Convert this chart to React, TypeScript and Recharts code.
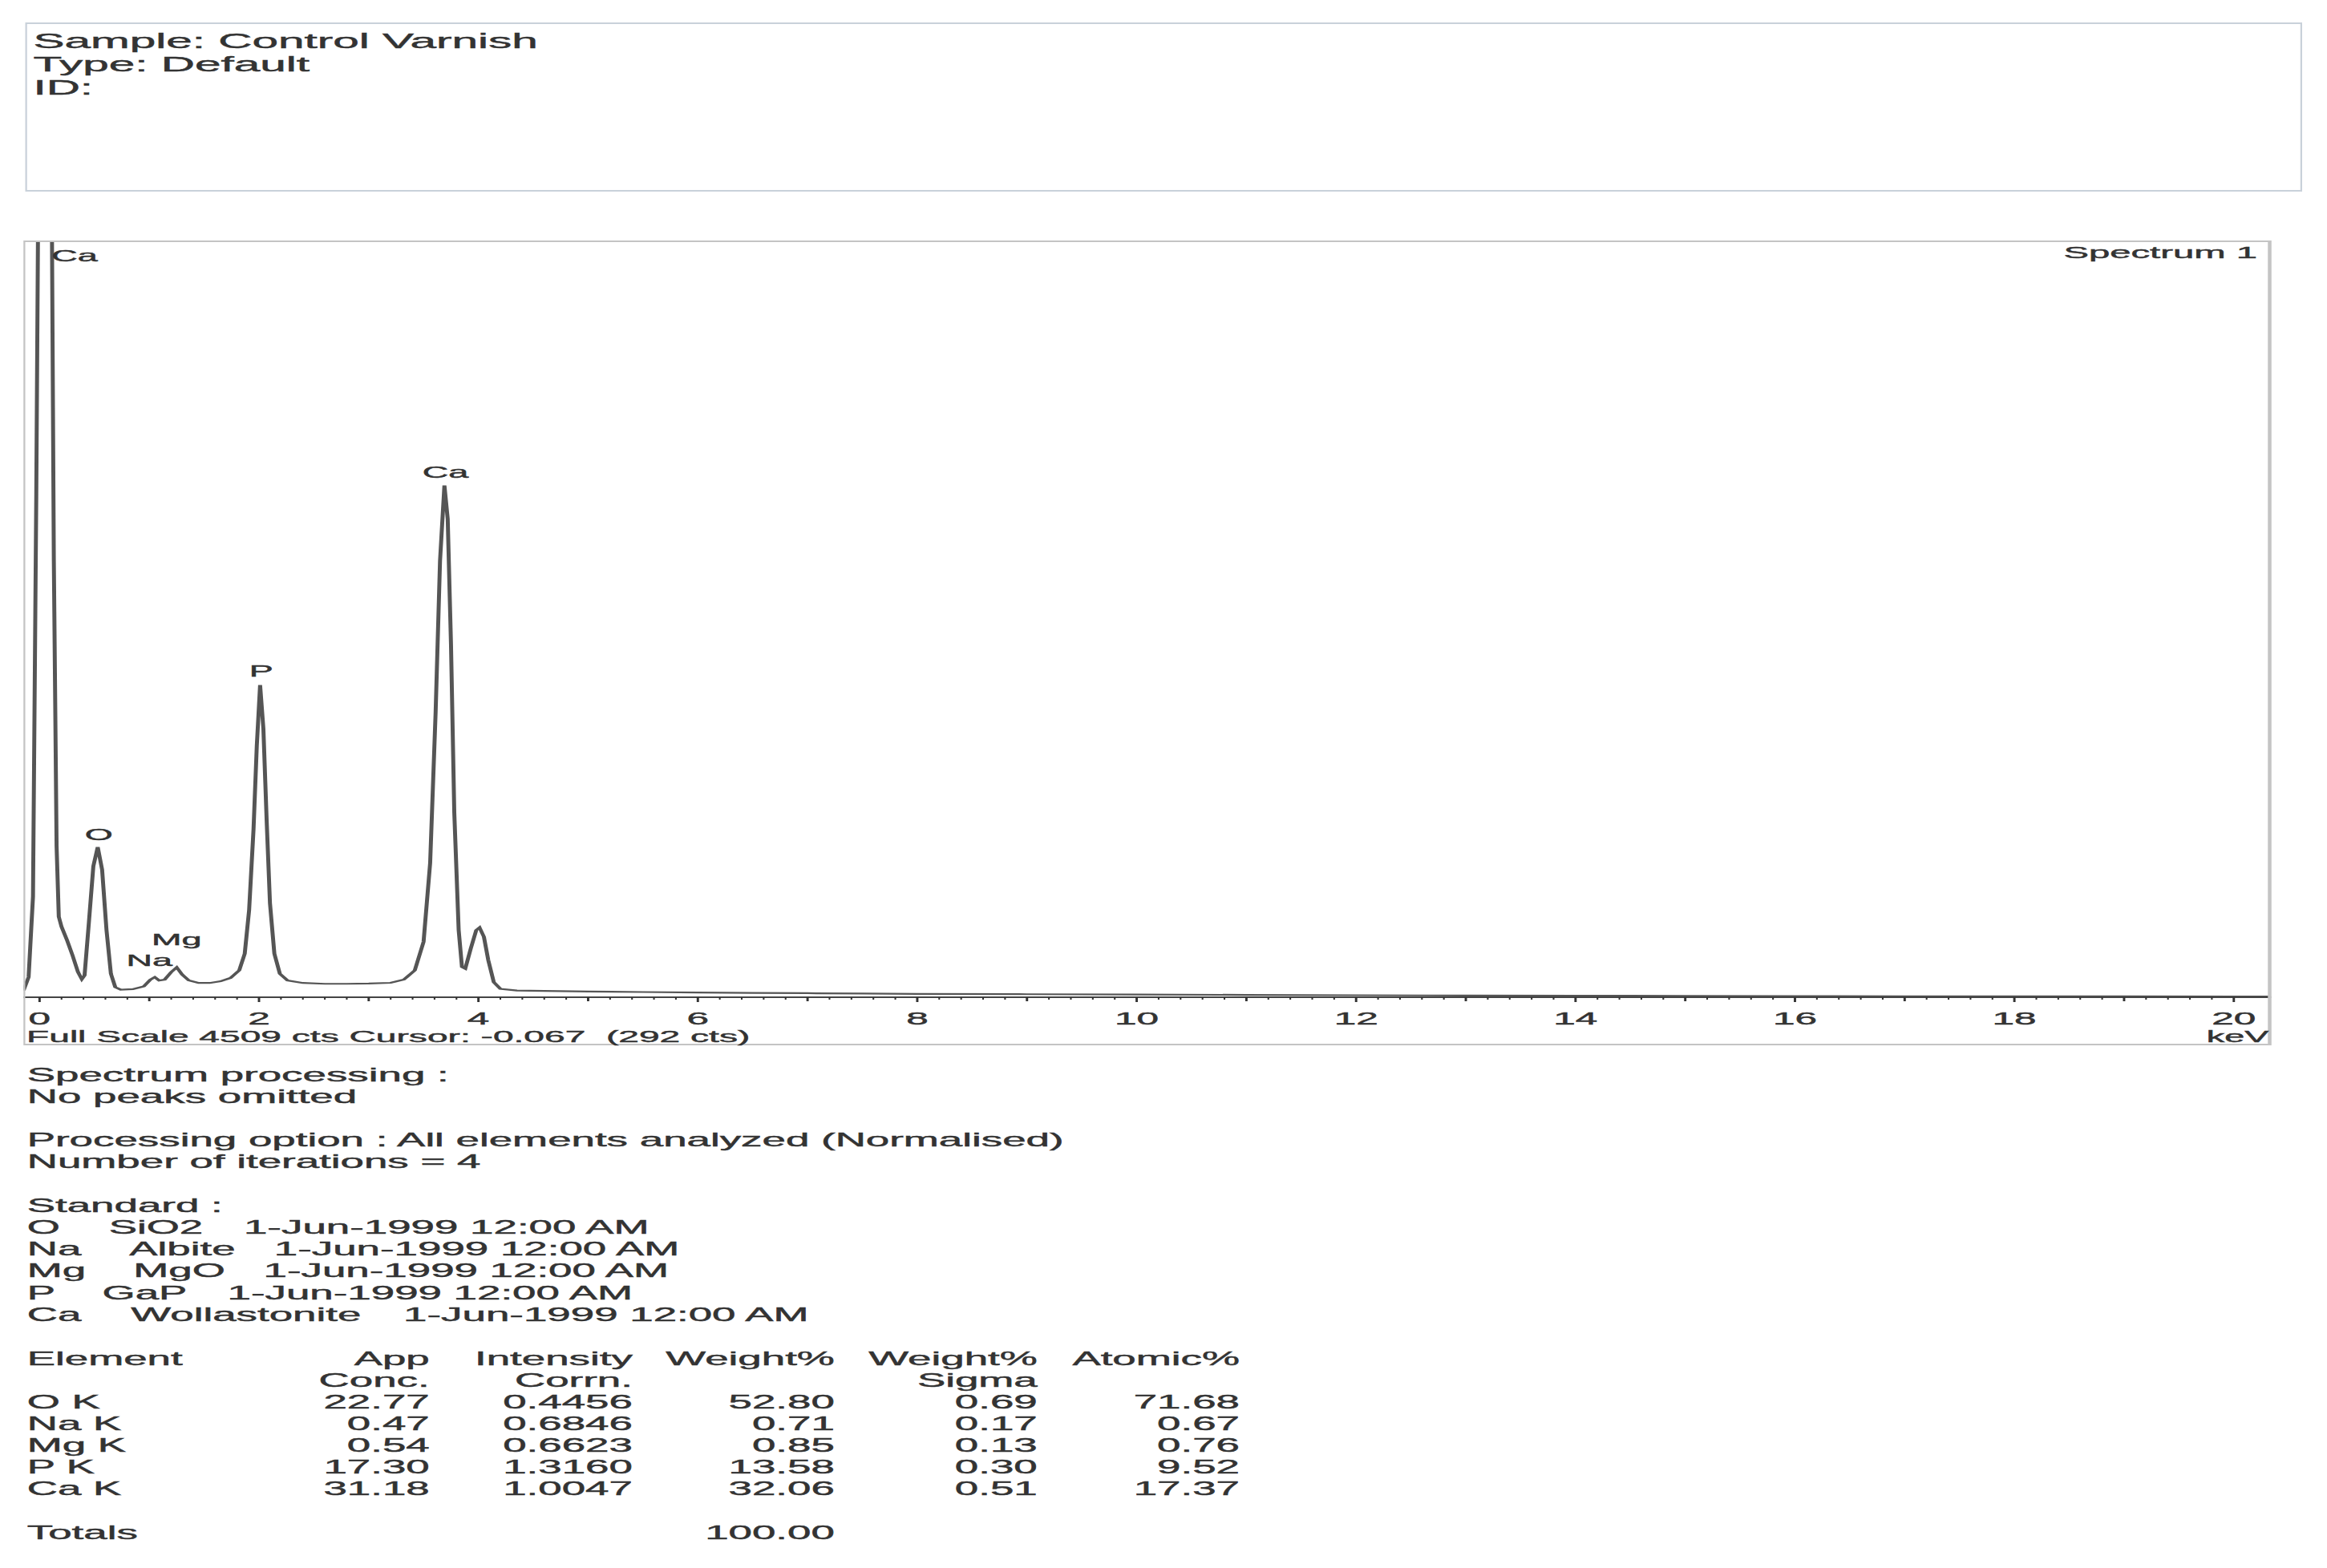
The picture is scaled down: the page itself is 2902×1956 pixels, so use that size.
import React from "react";
import { LineChart, Line, XAxis, YAxis, ReferenceDot } from "recharts";

// the reference is horizontally stretched, so the page is laid out narrow and scaled in x
const SX = 2.25;
const PAGE_W = 2902;
const PAGE_H = 1956;
const INNER_W = PAGE_W / SX;
const FONT = '"Liberation Sans", Arial, Helvetica, sans-serif';
const INK = "#333";

const FULL_SCALE = 4509;

// spectrum (keV, counts)
const energyKev = [
  -0.146, -0.1, -0.06, -0.03, 0.0, 0.05, 0.1, 0.13, 0.155, 0.175, 0.2, 0.25, 0.3, 0.35, 0.385,
  0.41, 0.45, 0.49, 0.53, 0.57, 0.61, 0.65, 0.69, 0.74, 0.85, 0.95, 1.01, 1.05, 1.09, 1.14,
  1.2, 1.25, 1.3, 1.36, 1.45, 1.55, 1.65, 1.74, 1.82, 1.87, 1.91, 1.95, 1.98, 2.01, 2.04,
  2.07, 2.1, 2.14, 2.19, 2.26, 2.4, 2.6, 2.8, 3.0, 3.2, 3.32, 3.42, 3.5, 3.56, 3.61, 3.65,
  3.69, 3.72, 3.75, 3.78, 3.82, 3.85, 3.88, 3.93, 3.98, 4.01, 4.05, 4.09, 4.14, 4.2, 4.35,
  4.6, 5.0, 5.5, 6.0, 6.5, 7.0, 7.5, 8.0, 9.0, 10.0, 11.0, 12.0, 13.0, 14.0, 15.0, 16.0,
  17.0, 18.0, 19.0, 20.0, 20.34,
];
const counts = [
  40, 120, 600, 3000, 6000, 8000, 6000, 2600, 900, 480, 420, 340, 250, 150, 108,
  130, 450, 780, 895, 760, 400, 140, 60, 45, 48, 65, 105, 120, 100, 105,
  150, 178, 135, 100, 85, 85, 95, 115, 160, 260, 520, 1000, 1500, 1860, 1600,
  1050, 560, 260, 140, 100, 85, 80, 80, 82, 86, 105, 160, 330, 800, 1700, 2600,
  3050, 2850, 2100, 1100, 400, 180, 170, 290, 400, 415, 360, 220, 90, 50, 40,
  38, 34, 31, 28, 26, 24, 22, 20, 18, 16, 14, 12, 10, 9, 8, 7,
  6, 5, 5, 4, 4,
];

const majorTicks = [0, 2, 4, 6, 8, 10, 12, 14, 16, 18, 20];
const minorStep = 0.2;

const peakNames = ["Ca", "Ca", "P", "O", "Mg", "Na"];
const peakLabelKev = [0.32, 3.7, 2.02, 0.54, 1.25, 1.0];
const peakLabelCounts = [4418, 3128, 1943, 970, 344, 220];

const sampleLines = ["Sample: Control Varnish", "Type: Default", "ID:"];

const processingLines: [string, number][] = [
  ["Spectrum processing :", 1349],
  ["No peaks omitted", 1376],
  ["Processing option : All elements analyzed (Normalised)", 1430.5],
  ["Number of iterations = 4", 1457.5],
  ["Standard :", 1512],
];

const stdElements = ["O", "Na", "Mg", "P", "Ca"];
const stdCompounds = ["SiO2", "Albite", "MgO", "GaP", "Wollastonite"];
const stdDate = "1-Jun-1999 12:00 AM";
const stdCompoundX = [60.3, 71.7, 73.9, 56.7, 72.6];
const stdDateX = [135.1, 151.9, 146, 126, 223.6];

const elementNames = ["O K", "Na K", "Mg K", "P K", "Ca K"];
const appConc = ["22.77", "0.47", "0.54", "17.30", "31.18"];
const intensityCorrn = ["0.4456", "0.6846", "0.6623", "1.3160", "1.0047"];
const weightPct = ["52.80", "0.71", "0.85", "13.58", "32.06"];
const weightSigma = ["0.69", "0.17", "0.13", "0.30", "0.51"];
const atomicPct = ["71.68", "0.67", "0.76", "9.52", "17.37"];
const totalWeight = "100.00";

const spectrum = energyKev.map((kev, i) => ({ kev, cts: counts[i] }));
const axisTicks = Array.from({ length: Math.round(20 / minorStep) + 1 }, (_, i) =>
  Math.round(i * minorStep * 10) / 10
);

const KevTick = (props: any) => {
  const { x, y, payload } = props;
  const v = payload.value as number;
  const isMajor = majorTicks.some((t) => Math.abs(t - v) < 1e-6);
  const isInt = Math.abs(v - Math.round(v)) < 1e-6;
  const len = isMajor ? 6 : isInt ? 5 : 3;
  return (
    <g>
      <line x1={x} x2={x} y1={y} y2={y + len} stroke="#333" strokeWidth={isInt ? 1.3 : 0.9} />
      {isMajor && (
        <text
          x={x}
          y={y + 34}
          textAnchor="middle"
          fontSize={22}
          fill={INK}
          stroke={INK}
          strokeWidth={0.45}
          fontFamily={FONT}
        >
          {Math.round(v)}
        </text>
      )}
    </g>
  );
};

const BOX_L = 13.3;
const BOX_T = 300;
const BOX_W = 1245.8;
const BOX_H = 1004;

const T = (p: { x: number; y: number; size?: number; anchor?: string; children: React.ReactNode }) => (
  <text
    x={p.x}
    y={p.y}
    fontSize={p.size ?? 23.5}
    textAnchor={(p.anchor as any) ?? "start"}
    fill={INK}
    stroke={INK}
    strokeWidth={0.45}
    fontFamily={FONT}
    style={{ whiteSpace: "pre" }}
  >
    {p.children}
  </text>
);

const tableCols = [238.1, 350.6, 462.6, 575, 687.1];
const rowBase = [1757, 1784, 1811, 1838, 1865];

export default function App() {
  return (
    <div style={{ position: "absolute", left: 0, top: 0, width: PAGE_W, height: PAGE_H, overflow: "hidden", background: "#fff" }}>
      <div style={{ position: "absolute", left: 0, top: 0, width: INNER_W, height: PAGE_H, transform: `scaleX(${SX})`, transformOrigin: "0 0" }}>
        <div
          style={{
            position: "absolute", left: 13.6, top: 28, width: 1262.4, height: 211, boxSizing: "border-box",
            borderStyle: "solid", borderColor: "#c9d1da", borderWidth: "2.5px 1.2px",
          }}
        />
        <div style={{ position: "absolute", left: BOX_L, top: BOX_T }}>
          <LineChart width={BOX_W} height={BOX_H} data={spectrum} margin={{ top: 0, right: 0, bottom: 0, left: 0 }}>
            <XAxis
              dataKey="kev"
              type="number"
              domain={[-0.147, 20.34]}
              allowDataOverflow
              ticks={axisTicks}
              interval={0}
              height={60}
              tickSize={0}
              tickMargin={0}
              tickLine={false}
              axisLine={{ stroke: "#444", strokeWidth: 2 }}
              tick={<KevTick />}
            />
            <YAxis hide domain={[0, FULL_SCALE]} allowDataOverflow />
            <Line type="linear" dataKey="cts" stroke="#555" strokeWidth={2.2} dot={false} isAnimationActive={false} />
            {peakNames.map((n, i) => (
              <ReferenceDot
                key={i}
                x={peakLabelKev[i]}
                y={peakLabelCounts[i]}
                r={2}
                fill="none"
                stroke="none"
                label={{ value: n, position: "center", fill: INK, stroke: INK, strokeWidth: 0.45, fontSize: 20, fontFamily: FONT }}
              />
            ))}
          </LineChart>
        </div>
        <div
          style={{
            position: "absolute", left: BOX_L, top: BOX_T, width: BOX_W, height: BOX_H, boxSizing: "border-box",
            borderStyle: "solid", borderColor: "#c4c4c4", borderWidth: "2.5px 2.5px 2.5px 1.5px", pointerEvents: "none",
          }}
        />
        <svg width={INNER_W} height={PAGE_H} style={{ position: "absolute", left: 0, top: 0, pointerEvents: "none" }}>
          {sampleLines.map((s, i) => (
            <T key={s} x={18.4} y={60 + i * 29} size={26}>{s}</T>
          ))}
          <T x={1251.1} y={322} size={21} anchor="end">Spectrum 1</T>
          <T x={14.7} y={1300} size={20.5}>Full Scale 4509 cts Cursor: -0.067  (292 cts)</T>
          <T x={1257.5} y={1300} size={20} anchor="end">keV</T>

          {processingLines.map(([s, y]) => (
            <T key={s} x={15} y={y}>{s}</T>
          ))}
          {stdElements.map((el, i) => (
            <g key={el}>
              <T x={15} y={1539 + i * 27.2}>{el}</T>
              <T x={stdCompoundX[i]} y={1539 + i * 27.2}>{stdCompounds[i]}</T>
              <T x={stdDateX[i]} y={1539 + i * 27.2}>{stdDate}</T>
            </g>
          ))}

          <T x={15} y={1703}>Element</T>
          <T x={tableCols[0]} y={1703} anchor="end">App</T>
          <T x={tableCols[1]} y={1703} anchor="end">Intensity</T>
          <T x={tableCols[2]} y={1703} anchor="end">Weight%</T>
          <T x={tableCols[3]} y={1703} anchor="end">Weight%</T>
          <T x={tableCols[4]} y={1703} anchor="end">Atomic%</T>
          <T x={tableCols[0]} y={1730} anchor="end">Conc.</T>
          <T x={tableCols[1]} y={1730} anchor="end">Corrn.</T>
          <T x={tableCols[3]} y={1730} anchor="end">Sigma</T>
          {elementNames.map((el, i) => (
            <g key={el}>
              <T x={15} y={rowBase[i]}>{el}</T>
              <T x={tableCols[0]} y={rowBase[i]} anchor="end">{appConc[i]}</T>
              <T x={tableCols[1]} y={rowBase[i]} anchor="end">{intensityCorrn[i]}</T>
              <T x={tableCols[2]} y={rowBase[i]} anchor="end">{weightPct[i]}</T>
              <T x={tableCols[3]} y={rowBase[i]} anchor="end">{weightSigma[i]}</T>
              <T x={tableCols[4]} y={rowBase[i]} anchor="end">{atomicPct[i]}</T>
            </g>
          ))}
          <T x={15} y={1920}>Totals</T>
          <T x={tableCols[2]} y={1920} anchor="end">{totalWeight}</T>
        </svg>
      </div>
    </div>
  );
}
